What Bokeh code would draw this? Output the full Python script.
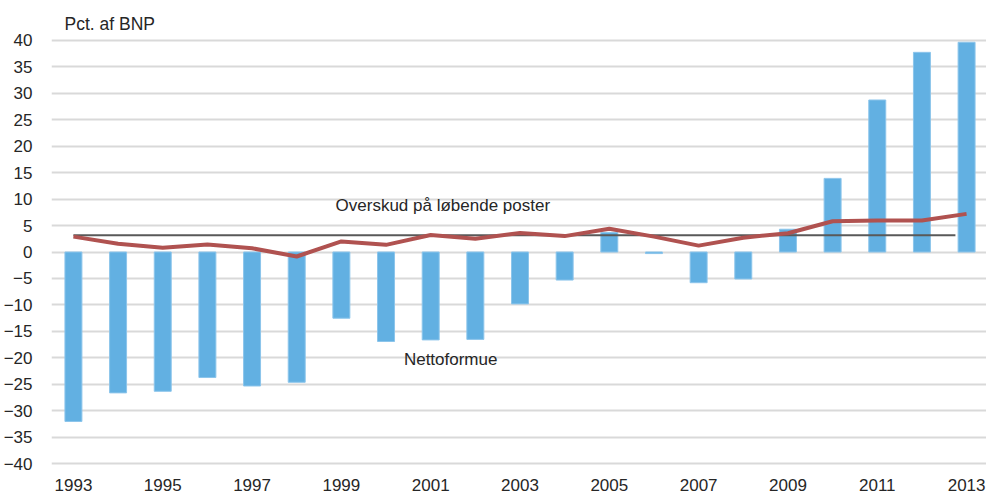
from bokeh.plotting import figure
from bokeh.models import ColumnDataSource, FixedTicker, Label, Range1d
from bokeh.embed import file_html
from bokeh.resources import INLINE

years = list(range(1993, 2014))
nettoformue = [-32.0, -26.6, -26.3, -23.7, -25.3, -24.6, -12.5, -16.9, -16.6, -16.5,
               -9.8, -5.3, 3.7, -0.3, -5.8, -5.1, 4.3, 13.9, 28.7, 37.7, 39.6]
overskud = [2.9, 1.55, 0.8, 1.4, 0.7, -0.85, 2.0, 1.35, 3.2, 2.5,
            3.6, 3.0, 4.4, 2.9, 1.2, 2.7, 3.55, 5.8, 5.95, 5.95, 7.2]
ref_x = [1993, 2012.75]
ref_y = [3.15, 3.15]
y_ticks = list(range(-40, 41, 5))
x_ticks = list(range(1993, 2014, 2))

FONT = "Liberation Sans"
TXT = "#262626"

p = figure(width=986, height=497,
           x_range=Range1d(1992.509, 2013.446), y_range=Range1d(-40.5, 40.5),
           output_backend="svg", toolbar_location=None,
           min_border_left=48, min_border_right=0, min_border_top=37, min_border_bottom=31)
p.outline_line_color = None
p.xgrid.visible = False

p.title.text = "Pct. af BNP"
p.title.align = "left"
p.title.offset = 13
p.title.standoff = 7
p.title.text_font = FONT
p.title.text_font_size = "17.5px"
p.title.text_font_style = "normal"
p.title.text_color = TXT

p.ygrid.ticker = FixedTicker(ticks=y_ticks)
p.ygrid.grid_line_color = "#D9D9D9"
p.ygrid.grid_line_width = 2

for ax, ticks, standoff in ((p.xaxis[0], x_ticks, 12), (p.yaxis[0], y_ticks, 19)):
    ax.ticker = FixedTicker(ticks=ticks)
    ax.axis_line_color = None
    ax.major_tick_line_color = None
    ax.minor_tick_line_color = None
    ax.major_tick_out = 0
    ax.major_label_standoff = standoff
    ax.major_label_text_font = FONT
    ax.major_label_text_font_size = "17px"
    ax.major_label_text_color = TXT

src = ColumnDataSource(dict(x=years, net=nettoformue, cur=overskud))
p.vbar(x="x", top="net", bottom=0, width=0.38, source=src,
       fill_color="#62B0E2", line_color="#8CC5EB", line_width=1)
p.line(ref_x, ref_y, line_color="#595959", line_width=2)
p.line("x", "cur", source=src, line_color="#B05250", line_width=4)

p.add_layout(Label(x=1998.87, y=8.77, text="Overskud på løbende poster", text_baseline="middle",
                   text_font=FONT, text_font_size="17px", text_color=TXT))
p.add_layout(Label(x=2000.40, y=-20.3, text="Nettoformue", text_baseline="middle",
                   text_font=FONT, text_font_size="17px", text_color=TXT))

open("out.html", "w").write(file_html(p, INLINE))
